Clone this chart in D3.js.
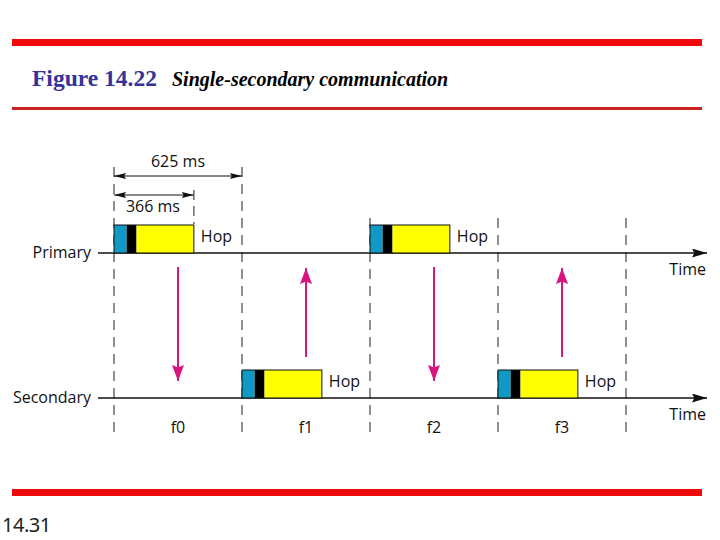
<!DOCTYPE html>
<html>
<head>
  <title>Single-secondary communication</title>
  <script src="https://d3js.org/d3.v7.min.js"></script>
  <style>
    body { margin: 0; background: #fff; }
    svg { display: block; }
    .lbl { font-family: "Open Sans", sans-serif; font-size: 16px; fill: #111; }
  </style>
</head>
<body>
  <svg></svg>
  <script>

    // Values
    var stations = ["Primary", "Secondary"];
    var slotEdges = [0, 625, 1250, 1875, 2500];
    var slotNames = ["f0", "f1", "f2", "f3"];
    var slotSenders = ["Primary", "Secondary", "Primary", "Secondary"];
    // packet segments in ms from slot start (as drawn, not to the 366 label)
    var segmentEnds = [62, 110, 390];
    var segmentColors = ["#0f99c4", "#000000", "#ffff00"];

    var width = 720, height = 540;

    var svg = d3.select("svg")
        .attr("width", width)
        .attr("height", height);

    var x = d3.scaleLinear().domain([0, 2500]).range([114, 626]);
    var y = d3.scalePoint().domain(stations).range([253, 398]);

    var boxH = 28;

    // Arrow heads
    function marker(id, color, w, h) {
      svg.append("defs").append("marker")
          .attr("id", id)
          .attr("viewBox", "0 0 " + w + " " + h)
          .attr("refX", w).attr("refY", h / 2)
          .attr("markerUnits", "userSpaceOnUse")
          .attr("markerWidth", w).attr("markerHeight", h)
          .attr("orient", "auto-start-reverse")
        .append("path")
          .attr("d", "M0,0L" + w + "," + (h / 2) + "L0," + h + "L" + (w * 0.15) + "," + (h / 2) + "Z")
          .attr("fill", color);
    }
    marker("head", "#111", 15, 9);
    marker("small", "#111", 12, 6);
    marker("pink", "#d9147f", 16, 12);

    // Red page rules
    svg.append("rect").attr("x", 12).attr("y", 39).attr("width", 690).attr("height", 7).attr("fill", "#ee0a0a");
    svg.append("rect").attr("x", 12).attr("y", 107).attr("width", 690).attr("height", 3).attr("fill", "#cc2222");
    svg.append("rect").attr("x", 12).attr("y", 489).attr("width", 690).attr("height", 7).attr("fill", "#ee0a0a");

    // Title
    svg.append("text").attr("x", 32).attr("y", 86)
        .style("font-family", "'Liberation Serif', serif").style("font-size", "23.5px")
        .style("font-weight", "bold").attr("fill", "#333399")
        .text("Figure 14.22");
    svg.append("text").attr("x", 172).attr("y", 86)
        .style("font-family", "'Liberation Serif', serif").style("font-size", "20px")
        .style("font-weight", "bold").style("font-style", "italic").attr("fill", "#000")
        .text("Single-secondary communication");

    svg.append("text").attr("x", 2).attr("y", 532)
        .style("font-family", "'Noto Sans', sans-serif").style("font-size", "20px")
        .style("letter-spacing", "-0.5px")
        .attr("fill", "#222")
        .text("14.31");

    // Dashed slot boundaries, drawn upwards so a full dash sits at the bottom
    svg.selectAll(".slot").data(slotEdges).enter().append("line")
        .attr("class", "slot")
        .attr("x1", function(d) { return x(d); })
        .attr("x2", function(d) { return x(d); })
        .attr("y1", 432)
        .attr("y2", function(d, i) { return i < 2 ? 161 : 211; })
        .attr("stroke", "#444")
        .attr("stroke-width", 1.2)
        .attr("stroke-dasharray", "10 7");

    // Time axes
    svg.selectAll(".axis").data(stations).enter().append("line")
        .attr("class", "axis")
        .attr("x1", 98)
        .attr("x2", 707)
        .attr("y1", function(d) { return y(d); })
        .attr("y2", function(d) { return y(d); })
        .attr("stroke", "#111")
        .attr("stroke-width", 1.3)
        .attr("marker-end", "url(#head)");

    svg.selectAll(".station").data(stations).enter().append("text")
        .attr("class", "lbl station")
        .attr("x", 91)
        .attr("y", function(d) { return y(d) + 5; })
        .attr("text-anchor", "end")
        .text(function(d) { return d; });

    svg.selectAll(".time").data(stations).enter().append("text")
        .attr("class", "lbl time")
        .attr("x", 706)
        .attr("y", function(d) { return y(d) + 22; })
        .attr("text-anchor", "end")
        .text("Time");

    // Packets
    slotNames.forEach(function(name, i) {
      var start = slotEdges[i], base = y(slotSenders[i]), prev = 0;
      segmentEnds.forEach(function(end, j) {
        svg.append("rect")
            .attr("x", x(start + prev))
            .attr("y", base - boxH)
            .attr("width", x(start + end) - x(start + prev))
            .attr("height", boxH)
            .attr("fill", segmentColors[j]);
        prev = end;
      });
      svg.append("rect")
          .attr("x", x(start))
          .attr("y", base - boxH)
          .attr("width", x(start + prev) - x(start))
          .attr("height", boxH)
          .attr("fill", "none")
          .attr("stroke", "#111")
          .attr("stroke-width", 1);
      svg.append("text")
          .attr("class", "lbl")
          .attr("x", x(start + prev) + 7)
          .attr("y", base - 11)
          .text("Hop");

      // Hop frequency label and pink direction arrow, mid slot
      var mid = x(start + 312.5);
      svg.append("text")
          .attr("class", "lbl")
          .attr("x", mid)
          .attr("y", 433)
          .attr("text-anchor", "middle")
          .text(name);
      var down = slotSenders[i] === "Primary";
      svg.append("line")
          .attr("x1", mid).attr("x2", mid)
          .attr("y1", down ? 267 : 357)
          .attr("y2", down ? 381 : 268)
          .attr("stroke", "#d9147f")
          .attr("stroke-width", 2)
          .attr("marker-end", "url(#pink)");
    });

    // Dimension arrows
    var dims = [
      {label: "625 ms", end: 625, y: 176, ty: 167},
      {label: "366 ms", end: 390, y: 195, ty: 212}
    ];
    dims.forEach(function(d) {
      svg.append("line")
          .attr("x1", x(0)).attr("x2", x(d.end))
          .attr("y1", d.y).attr("y2", d.y)
          .attr("stroke", "#111")
          .attr("stroke-width", 1)
          .attr("marker-start", "url(#small)")
          .attr("marker-end", "url(#small)");
      svg.append("text")
          .attr("class", "lbl")
          .attr("x", (x(0) + x(d.end)) / 2 + (d.end === 625 ? 0 : -1))
          .attr("y", d.ty)
          .attr("text-anchor", "middle")
          .text(d.label);
    });
    // Tick down from the 366 ms arrow
    svg.append("line")
        .attr("x1", x(390)).attr("x2", x(390))
        .attr("y1", 190).attr("y2", 224)
        .attr("stroke", "#444")
        .attr("stroke-width", 1.2)
        .attr("stroke-dasharray", "10 6");

  </script>
</body>
</html>
